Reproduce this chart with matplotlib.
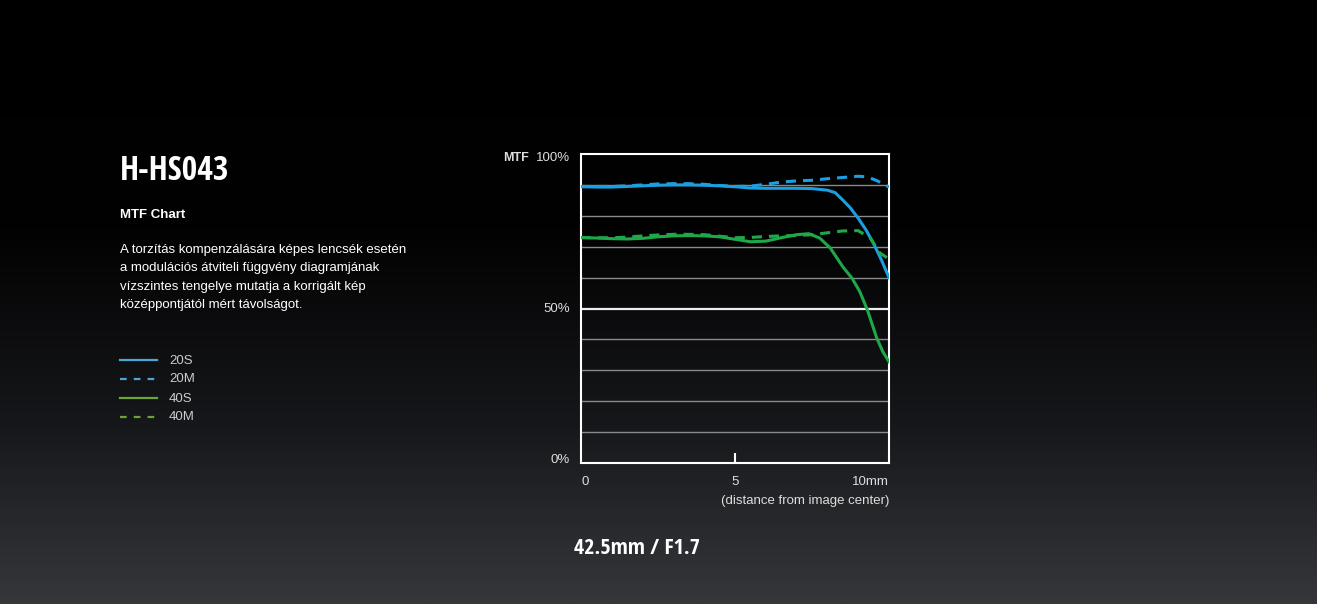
import numpy as np
import matplotlib
matplotlib.use("Agg")
import matplotlib.pyplot as plt
from matplotlib.colors import LinearSegmentedColormap
from matplotlib import font_manager as fm

# MTF data (distance in mm, MTF in %)
x_20s = [0, 0.5, 1, 1.5, 2, 2.5, 3, 3.5, 4, 4.5, 5, 5.5, 6, 6.5, 7, 7.5, 8, 8.25, 8.5, 8.75, 9, 9.25, 9.5, 9.75, 10]
y_20s = [89.4, 89.3, 89.3, 89.5, 89.7, 89.9, 90.0, 90.0, 89.9, 89.7, 89.4, 89.0, 88.9, 88.9, 88.9, 88.8, 88.3, 87.5, 85.1, 82.5, 79.2, 75.5, 71.0, 65.8, 60.0]

x_20m = [0, 0.5, 1, 1.5, 2, 2.5, 3, 3.5, 4, 4.5, 5, 5.5, 6, 6.5, 7, 7.5, 8, 8.5, 9, 9.3, 9.6, 9.8, 10]
y_20m = [89.5, 89.5, 89.5, 89.7, 90.0, 90.3, 90.4, 90.4, 90.2, 89.8, 89.5, 89.6, 90.2, 90.9, 91.3, 91.5, 92.0, 92.4, 92.8, 92.6, 91.4, 90.4, 89.3]

x_40s = [0, 0.5, 1, 1.5, 2, 2.5, 3, 3.5, 4, 4.5, 5, 5.5, 6, 6.5, 7, 7.4, 7.75, 8.1, 8.5, 8.8, 9.05, 9.3, 9.6, 9.8, 10]
y_40s = [72.9, 72.8, 72.6, 72.5, 72.7, 73.2, 73.5, 73.6, 73.5, 73.2, 72.4, 71.6, 71.8, 72.9, 73.9, 74.2, 72.8, 69.5, 63.5, 59.8, 55.5, 49.5, 40.5, 36.0, 32.8]

x_40m = [0, 0.5, 1, 1.5, 2, 2.5, 3, 3.5, 4, 4.5, 5, 5.5, 6, 6.5, 7, 7.5, 8, 8.5, 9, 9.4, 9.7, 10]
y_40m = [73.0, 72.9, 72.9, 73.1, 73.5, 73.8, 74.0, 74.0, 73.9, 73.4, 72.9, 73.0, 73.3, 73.5, 73.6, 73.9, 74.5, 75.1, 75.2, 72.7, 68.0, 66.0]

legend_labels = ["20S", "20M", "40S", "40M"]
y_tick_vals = [100, 50, 0]
y_tick_labels = ["100%", "50%", "0%"]
x_ticks = [0, 5, 10]
x_tick_labels = ["0", "5", "10mm"]

# pick a condensed bold face for the headings
installed = set(f.name for f in fm.fontManager.ttflist)
narrow = [f for f in ["Open Sans Condensed", "Roboto Condensed", "Barlow Condensed"] if f in installed][:1]
narrow = narrow + ["DejaVu Sans"]
plt.rcParams["font.family"] = ["Liberation Sans", "DejaVu Sans"]

fig = plt.figure(figsize=(13.17, 6.04), dpi=100)

# background gradient
bg = fig.add_axes([0, 0, 1, 1])
cmap = LinearSegmentedColormap.from_list(
    "bg", [(0.0, "#000000"), (0.38, "#020202"), (0.7, "#16171a"), (1.0, "#36373b")])
grad = np.linspace(0, 1, 256).reshape(-1, 1)
bg.imshow(grad, aspect="auto", cmap=cmap, extent=[0, 1, 1, 0])
bg.set_xlim(0, 1)
bg.set_ylim(1, 0)
bg.axis("off")

ax = fig.add_axes([581 / 1317, 141 / 604, 308 / 1317, 309 / 604])
ax.patch.set_alpha(0)

for v in range(10, 100, 10):
    ax.axhline(v, color="#eeeeee" if v == 50 else "#8a8a8a", lw=1.6 if v == 50 else 1.0, zorder=1)

blue = "#1a9fe0"
green = "#1fa84a"
ax.plot(x_20s, y_20s, color=blue, lw=2.2, zorder=3)
ax.plot(x_20m, y_20m, color=blue, lw=2.2, dashes=(3.3, 2.3), zorder=3)
ax.plot(x_40s, y_40s, color=green, lw=2.2, zorder=3)
ax.plot(x_40m, y_40m, color=green, lw=2.2, dashes=(3.3, 2.3), zorder=3)

ax.set_xlim(0, 10)
ax.set_ylim(0, 100)
for s in ax.spines.values():
    s.set_color("white")
    s.set_linewidth(1.5)
ax.set_xticks([5])
ax.set_xticklabels([])
ax.tick_params(axis="x", direction="in", length=7, width=1.5, color="white")
ax.set_yticks([])

# axis labels as text
lab = dict(color="#dddddd", fontsize=9.5)
ytr = ax.get_yaxis_transform()
y_nudge = {100: -1.3, 50: 0.0, 0: 1.0}
for yv, yl in zip(y_tick_vals, y_tick_labels):
    ax.text(-0.035, yv + y_nudge[yv], yl, ha="right", va="center", transform=ytr, **lab)
ax.text(-0.17, 98.7, "MTF", ha="right", va="center", fontweight="bold",
        transform=ytr, color="#dddddd", fontsize=9)
for xv, xl in zip(x_ticks, x_tick_labels):
    ha = "left" if xv == 0 else ("right" if xv == 10 else "center")
    ax.text(xv, -0.06, xl, ha=ha, va="center", transform=ax.get_xaxis_transform(), **lab)
ax.text(1.0, -0.123, "(distance from image center)", ha="right", va="center",
        transform=ax.transAxes, **lab)

# left side text
fig.text(120 / 1317, 1 - 171 / 604, "H-HS043", family=narrow, fontweight="bold",
         fontsize=24.2, color="white", ha="left", va="center")
fig.text(120 / 1317, 1 - 215 / 604, "MTF Chart", fontweight="bold",
         fontsize=9.5, color="white", ha="left", va="center")
body = ["A torzítás kompenzálására képes lencsék esetén",
        "a modulációs átviteli függvény diagramjának",
        "vízszintes tengelye mutatja a korrigált kép",
        "középpontjától mért távolságot."]
for i, line in enumerate(body):
    fig.text(120 / 1317, 1 - (250 + i * 18.5) / 604, line, fontsize=9.5,
             color="white", ha="left", va="center")

# legend drawn manually
leg = fig.add_axes([0, 0, 1, 1])
leg.set_xlim(0, 1317)
leg.set_ylim(604, 0)
leg.axis("off")
leg_colors = ["#4aa6d8", "#4aa6d8", "#6aa535", "#6aa535"]
leg_dash = [None, (3, 3.2), None, (3, 3.2)]
for i, (lb, c, d) in enumerate(zip(legend_labels, leg_colors, leg_dash)):
    yy = 360 + i * 19
    if d is None:
        leg.plot([120, 157], [yy, yy], color=c, lw=1.6)
    else:
        leg.plot([120, 157], [yy, yy], color=c, lw=1.6, dashes=d)
    leg.text(169, yy + 0.5, lb, color="#cccccc", fontsize=9.5, va="center", ha="left")

fig.text(637 / 1317, 1 - 548 / 604, "42.5mm / F1.7", family=narrow, fontweight="bold",
         fontsize=15.8, color="white", ha="center", va="center")

fig.savefig("out.png", dpi=100, facecolor="black")
